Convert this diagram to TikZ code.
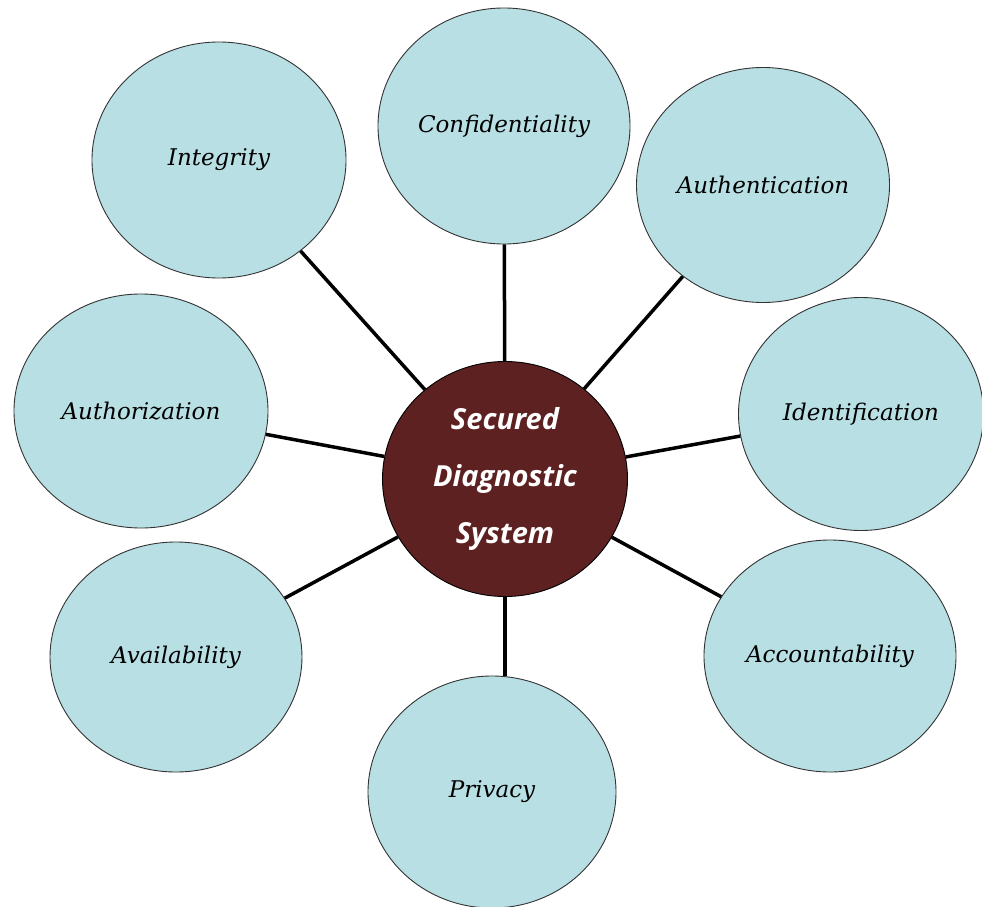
\documentclass[tikz,border=0pt]{standalone}
\usepackage{fontspec}
\usetikzlibrary{shapes.geometric}
\setmainfont{DejaVu Serif}
\newfontfamily\hubfont{Open Sans}
\definecolor{petal}{RGB}{184,223,228}
\definecolor{hubbrown}{RGB}{94,33,33}

\begin{document}
\begin{tikzpicture}[x=1pt,y=-1pt,
  petal/.style={ellipse,draw=black!80,line width=0.9pt,fill=petal,inner sep=0pt,
    font=\fontsize{23}{27}\selectfont\itshape},
  hub/.style={ellipse,draw=black,line width=0.9pt,fill=hubbrown,inner sep=0pt,
    minimum width=245,minimum height=235,text=white,align=center,
    font=\hubfont\fontsize{29}{57}\selectfont\bfseries\itshape},
  spoke/.style={line width=3.5pt}]
\useasboundingbox (0,0) rectangle (982,907);
\node[hub] (S) at (505,479) {Secured\\Diagnostic\\System};
\node[petal,minimum width=254,minimum height=236] (Int) at (219,160) {Integrity};
\node[petal,minimum width=252,minimum height=236] (Con) at (504,126) {Confidentiality};
\node[petal,minimum width=253,minimum height=235] (Aun) at (763,185) {Authentication};
\node[petal,minimum width=245,minimum height=233] (Ide) at (861,414) {Identification};
\node[petal,minimum width=254,minimum height=234] (Aut) at (141,411) {Authorization};
\node[petal,minimum width=252,minimum height=230] (Ava) at (176,657) {Availability};
\node[petal,minimum width=252,minimum height=232] (Acc) at (830,656) {Accountability};
\node[petal,minimum width=248,minimum height=232] (Pri) at (492,792) {Privacy};
\foreach \n in {Int,Con,Aun,Ide,Aut,Ava,Acc}
  \draw[spoke] (S) -- (\n);
\draw[spoke] (S.south) -- (S.south |- Pri.north);
\end{tikzpicture}
\end{document}
